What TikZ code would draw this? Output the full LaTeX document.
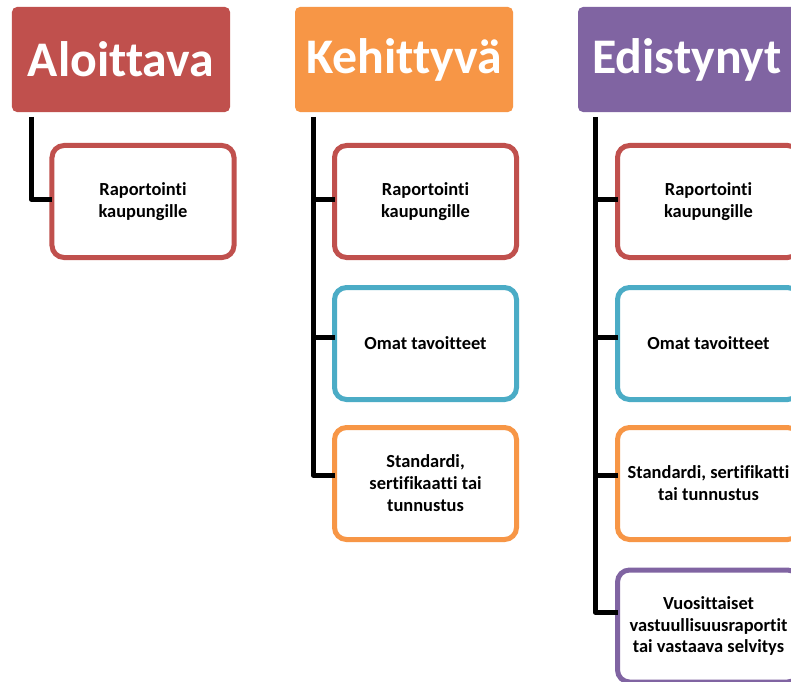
\documentclass[tikz,border=0pt]{standalone}
\usepackage{fontspec}
\setmainfont{Carlito}[Ligatures=NoCommon]
\definecolor{cred}{HTML}{C0504D}
\definecolor{corange}{HTML}{F79646}
\definecolor{cpurple}{HTML}{8064A2}
\definecolor{cblue}{HTML}{4BACC6}
\tikzset{
  head/.style={fill=#1, draw=none, rounded corners=5bp, minimum width=218bp, minimum height=105bp,
    inner sep=0pt, outer sep=0pt, text=white, font=\bfseries\fontsize{50}{60}\selectfont},
  child/.style={draw=#1, fill=white, line width=5bp, rounded corners=12bp, minimum width=182bp,
    minimum height=112bp, inner sep=0pt, outer sep=0pt, align=center, text=black,
    font=\bfseries\fontsize{18.5}{22}\selectfont},
  conn/.style={draw=black, line width=5bp, line join=round}
}
\begin{document}
\begin{tikzpicture}[x=1bp,y=-1bp]
\useasboundingbox (0,0) rectangle (791,682);
\clip (0,0) rectangle (791,682);
\fill[white] (0,0) rectangle (791,682);
% headers
\node[head=cred] (hA) at (121,59.5) {Aloittava};
\node[head=corange] (hB) at (404,59.5) {Kehittyvä};
\node[head=cpurple] (hC) at (687,59.5) {Edistynyt};
% column A
\node[child=cred] (a1) at (143,201.5) {Raportointi\\kaupungille};
% column B
\node[child=cred] (b1) at (425.5,201.5) {Raportointi\\kaupungille};
\node[child=cblue] (b2) at (425.5,343.5) {Omat tavoitteet};
\node[child=corange] (b3) at (425.5,483.5) {Standardi,\\sertifikaatti tai\\tunnustus};
% column C
\node[child=cred] (c1) at (708.5,201.5) {Raportointi\\kaupungille};
\node[child=cblue] (c2) at (708.5,343.5) {Omat tavoitteet};
\node[child=corange] (c3) at (708.5,483.5) {Standardi, sertifikatti\\tai tunnustus};
\node[child=cpurple] (c4) at (708.5,626) {Vuosittaiset\\vastuullisuusraportit\\tai vastaava selvitys};
% connector junctions
\coordinate (tA) at (31,117);
\coordinate (jA1) at (31,199);
\coordinate (tB) at (313,117);
\coordinate (jB1) at (313,199);
\coordinate (jB2) at (313,337);
\coordinate (jB3) at (313,475);
\coordinate (tC) at (595,117);
\coordinate (jC1) at (595,199);
\coordinate (jC2) at (595,337);
\coordinate (jC3) at (595,475);
\coordinate (jC4) at (595,612);
% connectors
\draw[conn] (tA) -- (jA1) -- (jA1 -| a1.west);
\draw[conn] (tB) -- (jB3) -- (jB3 -| b3.west);
\draw[conn] (jB1) -- (jB1 -| b1.west);
\draw[conn] (jB2) -- (jB2 -| b2.west);
\draw[conn] (tC) -- (jC4) -- (jC4 -| c4.west);
\draw[conn] (jC1) -- (jC1 -| c1.west);
\draw[conn] (jC2) -- (jC2 -| c2.west);
\draw[conn] (jC3) -- (jC3 -| c3.west);
\end{tikzpicture}
\end{document}
